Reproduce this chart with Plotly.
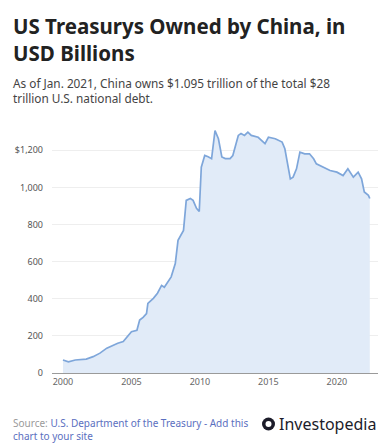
import plotly.graph_objects as go

years = [2000.0, 2000.4, 2000.9, 2001.7, 2002.2, 2002.7, 2003.2, 2003.65, 2004.0, 2004.4,
         2004.7, 2005.0, 2005.4, 2005.6, 2005.85, 2006.1, 2006.2, 2006.6, 2006.9, 2007.2,
         2007.4, 2007.65, 2007.9, 2008.2, 2008.4, 2008.8, 2009.0, 2009.3, 2009.5, 2009.75,
         2009.95, 2010.1, 2010.35, 2010.6, 2010.85, 2011.1, 2011.35, 2011.6, 2011.85, 2012.2,
         2012.4, 2012.8, 2013.0, 2013.25, 2013.5, 2013.75, 2014.25, 2014.75, 2015.0, 2015.5,
         2016.0, 2016.2, 2016.6, 2016.8, 2017.05, 2017.3, 2017.65, 2018.0, 2018.3, 2018.5,
         2019.0, 2019.5, 2020.0, 2020.45, 2020.8, 2021.2, 2021.55, 2021.8, 2022.0, 2022.3,
         2022.4]
holdings = [70, 60, 70, 75, 88, 107, 134, 150, 160, 170,
            195, 222, 230, 285, 300, 320, 375, 402, 430, 472,
            462, 490, 518, 590, 715, 768, 930, 940, 930, 887,
            870, 1109, 1172, 1165, 1155, 1306, 1262, 1164, 1155, 1155,
            1172, 1280, 1290, 1280, 1298, 1280, 1270, 1236, 1270, 1262,
            1244, 1208, 1046, 1055, 1100, 1190, 1181, 1181, 1154, 1127,
            1110, 1091, 1082, 1064, 1100, 1055, 1082, 1046, 975, 957,
            940]

y_tick_vals = [0, 200, 400, 600, 800, 1000, 1200]
y_tick_text = ["0", "200", "400", "600", "800", "1,000", "$1,200"]
x_tick_vals = [2000, 2005, 2010, 2015, 2020]
x_tick_text = ["2000", "2005", "2010", "2015", "2020"]

W, H = 381, 445
L, R, T, B = 52, 3, 128, 72
pw, ph = W - L - R, H - T - B

def px(x):
    return (x - L) / pw

def py(y):
    return (H - B - y) / ph

fig = go.Figure()
fig.add_trace(go.Scatter(
    x=years, y=holdings, mode="lines",
    line=dict(color="#7ea6da", width=1.7),
    fill="tozeroy", fillcolor="#e1ebf8",
    hoverinfo="skip", showlegend=False,
))

font_main = "Noto Sans, Open Sans, sans-serif"

annotations = [
    dict(text="<b>US Treasurys Owned by China, in<br>USD Billions</b>", x=px(11), y=py(39),
         font=dict(size=20.5, color="#222222", family=font_main)),
    dict(text="As of Jan. 2021, China owns $1.095 trillion of the total $28<br>trillion U.S. national debt.",
         x=px(11), y=py(90.5),
         font=dict(size=11.8, color="#444444", family=font_main)),
    dict(text="<span style='color:#9a9a9a'>Source: </span>U.S. Department of the Treasury - Add this<br>chart to your site",
         x=px(11), y=py(429),
         font=dict(size=10, color="#5b6fc0", family=font_main)),
    dict(text="Investopedia", x=px(277), y=py(424),
         font=dict(size=16, color="#1c1c2a", family=font_main)),
]
for a in annotations:
    a.update(xref="paper", yref="paper", xanchor="left", yanchor="middle",
             showarrow=False, align="left")

shapes = [
    dict(type="circle", xref="paper", yref="paper",
         x0=px(262), x1=px(275), y0=py(430.5), y1=py(417.5),
         fillcolor="#1c1c2a", line=dict(width=0)),
    dict(type="circle", xref="paper", yref="paper",
         x0=px(265.5), x1=px(271.5), y0=py(427), y1=py(421),
         fillcolor="white", line=dict(width=0)),
]

fig.update_layout(
    width=W, height=H,
    margin=dict(l=L, r=R, t=T, b=B, pad=0),
    paper_bgcolor="white", plot_bgcolor="white",
    annotations=annotations, shapes=shapes,
    xaxis=dict(range=[1999.2, 2023.0], tickvals=x_tick_vals, ticktext=x_tick_text,
               showgrid=False, zeroline=False, showline=True, linecolor="#9a9a9a",
               linewidth=1, ticks="", tickfont=dict(size=9, color="#666666", family=font_main)),
    yaxis=dict(range=[0, 1320], tickvals=y_tick_vals, ticktext=y_tick_text,
               showgrid=True, gridcolor="#eeeeee", gridwidth=1, zeroline=False,
               showline=False, ticks="", ticklabelstandoff=8,
               tickfont=dict(size=9, color="#555555", family=font_main)),
)

fig.write_html("out.html")
